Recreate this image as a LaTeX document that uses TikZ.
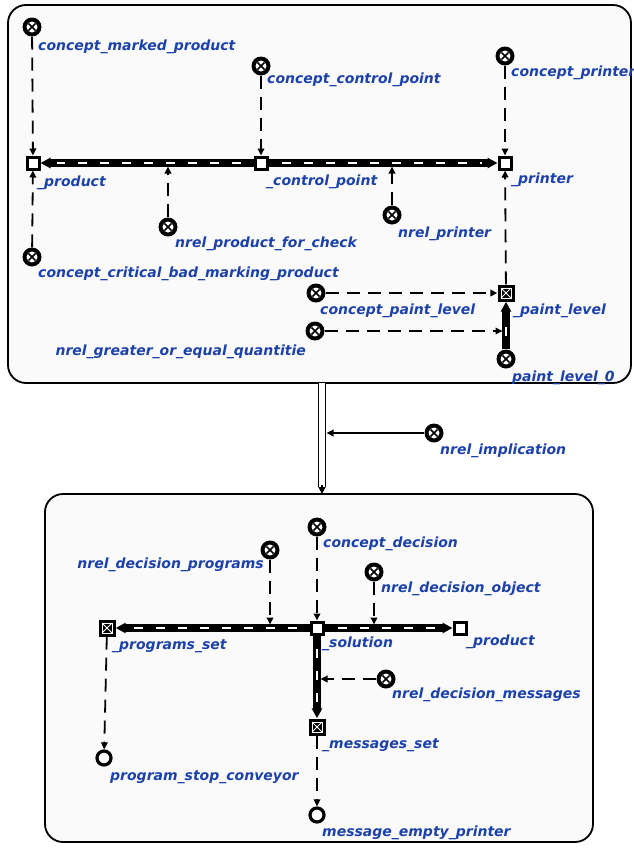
\documentclass[tikz,border=0pt]{standalone}
\usepackage{fontspec}
\setmainfont{DejaVu Sans}
\usetikzlibrary{arrows.meta,calc}
\definecolor{lblue}{RGB}{28,66,170}
\tikzset{
  frame/.style={draw=black, line width=1.8pt, rounded corners=18pt, fill=black!2},
  cls/.style={circle, minimum size=19pt, inner sep=0pt, fill=black, path picture={
     \fill[white] (path picture bounding box.center) circle[radius=5.5pt];
     \draw[black, line width=1.7pt] ([shift={(-3.6pt,-3.6pt)}]path picture bounding box.center) -- ([shift={(3.6pt,3.6pt)}]path picture bounding box.center);
     \draw[black, line width=1.7pt] ([shift={(-3.6pt,3.6pt)}]path picture bounding box.center) -- ([shift={(3.6pt,-3.6pt)}]path picture bounding box.center);}},
  var/.style={rectangle, draw=black, line width=3pt, fill=white, minimum size=12pt, inner sep=0pt},
  setvar/.style={rectangle, fill=black, minimum size=17pt, inner sep=0pt, path picture={
     \draw[white, line width=0.8pt] ([shift={(-5pt,-5pt)}]path picture bounding box.center) rectangle ([shift={(5pt,5pt)}]path picture bounding box.center);
     \draw[white, line width=0.8pt] ([shift={(-5pt,-5pt)}]path picture bounding box.center) -- ([shift={(5pt,5pt)}]path picture bounding box.center);
     \draw[white, line width=0.8pt] ([shift={(-5pt,5pt)}]path picture bounding box.center) -- ([shift={(5pt,-5pt)}]path picture bounding box.center);}},
  const/.style={circle, draw=black, line width=3.2pt, fill=white, minimum size=14pt, inner sep=0pt},
  lab/.style={text=lblue, font=\fontsize{14}{16}\selectfont\bfseries\itshape, inner sep=0pt},
  memb/.style={draw=black, line width=1.8pt, dash pattern=on 13pt off 8pt, -{Triangle[length=7pt,width=6.5pt]}},
  tharc/.style={draw=black, line width=7.5pt, -{Triangle[length=10pt,width=10pt]}},
  thdash/.style={draw=white, line width=2.8pt, dash pattern=on 9pt off 13pt, shorten >=16pt, shorten <=13pt},
}
\newcommand\thickarc[2]{\draw[tharc] (#1) -- (#2); \draw[thdash] (#1) -- (#2);}
\begin{document}
\begin{tikzpicture}[x=1pt,y=-1pt]
\useasboundingbox (0,0) rectangle (634,852);
% frames
\node[frame, minimum width=623pt, minimum height=378pt] (F1) at (319.5,194) {};
\node[frame, minimum width=548pt, minimum height=348pt] (F2) at (319,668) {};
% top nodes
\node[cls] (cmp) at (32,27) {};
\node[var] (prod) at (33,163) {};
\node[cls] (ccp) at (261,66) {};
\node[var] (cpt) at (261,163) {};
\node[cls] (cpr) at (505,56) {};
\node[var] (prt) at (505,163) {};
\node[cls] (npfc) at (168,227) {};
\node[cls] (nprt) at (392,215) {};
\node[cls] (ccb) at (32,257) {};
\node[cls] (cpl) at (316,293) {};
\node[setvar] (pl) at (506,293) {};
\node[cls] (ngeq) at (315,331) {};
\node[cls] (pl0) at (506,359) {};
% top arcs
\thickarc{cpt}{prod}
\thickarc{cpt}{prt}
\thickarc{pl0}{pl}
\draw[memb] (cmp) -- (prod);
\draw[memb] (ccb) -- (prod);
\draw[memb] (ccp) -- (cpt);
\draw[memb] (cpr) -- (prt);
\draw[memb] (pl) -- (prt);
\draw[memb] (cpl) -- (pl);
\draw[memb, shorten >=3.5pt] (npfc) -- (npfc |- prod);
\draw[memb, shorten >=3.5pt] (nprt) -- (nprt |- prt);
\draw[memb, shorten >=3.5pt] (ngeq) -- (ngeq -| pl);
% top labels
\node[lab, anchor=base west] (l1) at (38,50) {concept\_marked\_product};
\node[lab, anchor=base west] (l2) at (37,186) {\_product};
\node[lab, anchor=base west] (l3) at (267,83) {concept\_control\_point};
\node[lab, anchor=base west] (l4) at (266,185) {\_control\_point};
\node[lab, anchor=base west] (l5) at (511,76) {concept\_printer};
\node[lab, anchor=base west] (l6) at (511,183) {\_printer};
\node[lab, anchor=base west] (l7) at (175,247) {nrel\_product\_for\_check};
\node[lab, anchor=base west] (l8) at (398,237) {nrel\_printer};
\node[lab, anchor=base west] (l9) at (38,277) {concept\_critical\_bad\_marking\_product};
\node[lab, anchor=base west] (l10) at (320,314) {concept\_paint\_level};
\node[lab, anchor=base west] (l11) at (513,314) {\_paint\_level};
\node[lab, anchor=base east] (l12) at (306,355) {nrel\_greater\_or\_equal\_quantitie};
\node[lab, anchor=base west] (l13) at (512,381) {paint\_level\_0};
% implication
\coordinate (it) at (322,383);
\coordinate (ib) at (322,494);
\draw[line width=1.1pt, double=white, double distance=6pt] (it) -- ([yshift=7pt]ib);
\draw[line width=1.2pt, -{Triangle[length=7pt,width=7pt]}] ([yshift=9pt]ib) -- (ib);
\node[cls] (nimp) at (434,433) {};
\draw[line width=1.8pt, -{Triangle[length=7pt,width=6.5pt]}, shorten >=4.5pt] (nimp) -- (nimp -| it);
\node[lab, anchor=base west] (l14) at (440,454) {nrel\_implication};
% bottom nodes
\node[cls] (cdec) at (317,527) {};
\node[var] (sol) at (317,628) {};
\node[cls] (ndp) at (270,550) {};
\node[setvar] (pset) at (107,628) {};
\node[cls] (ndo) at (374,572) {};
\node[var] (prod2) at (460,628) {};
\node[setvar] (mset) at (317,727) {};
\node[cls] (ndm) at (386,679) {};
\node[const] (psc) at (104,758) {};
\node[const] (mep) at (317,815) {};
% bottom arcs
\thickarc{sol}{pset}
\thickarc{sol}{prod2}
\thickarc{sol}{mset}
\draw[memb] (cdec) -- (sol);
\draw[memb, shorten >=3.5pt] (ndp) -- (ndp |- sol);
\draw[memb, shorten >=3.5pt] (ndo) -- (ndo |- sol);
\draw[memb, shorten >=3.5pt] (ndm) -- (sol |- ndm);
\draw[memb] (pset) -- (psc);
\draw[memb] (mset) -- (mep);
% bottom labels
\node[lab, anchor=base west] (l15) at (323,547) {concept\_decision};
\node[lab, anchor=base east] (l16) at (264,568) {nrel\_decision\_programs};
\node[lab, anchor=base west] (l17) at (381,592) {nrel\_decision\_object};
\node[lab, anchor=base west] (l18) at (322,647) {\_solution};
\node[lab, anchor=base west] (l19) at (466,645) {\_product};
\node[lab, anchor=base west] (l20) at (112,649) {\_programs\_set};
\node[lab, anchor=base west] (l21) at (392,698) {nrel\_decision\_messages};
\node[lab, anchor=base west] (l22) at (322,748) {\_messages\_set};
\node[lab, anchor=base west] (l23) at (110,780) {program\_stop\_conveyor};
\node[lab, anchor=base west] (l24) at (322,836) {message\_empty\_printer};
\end{tikzpicture}
\end{document}
